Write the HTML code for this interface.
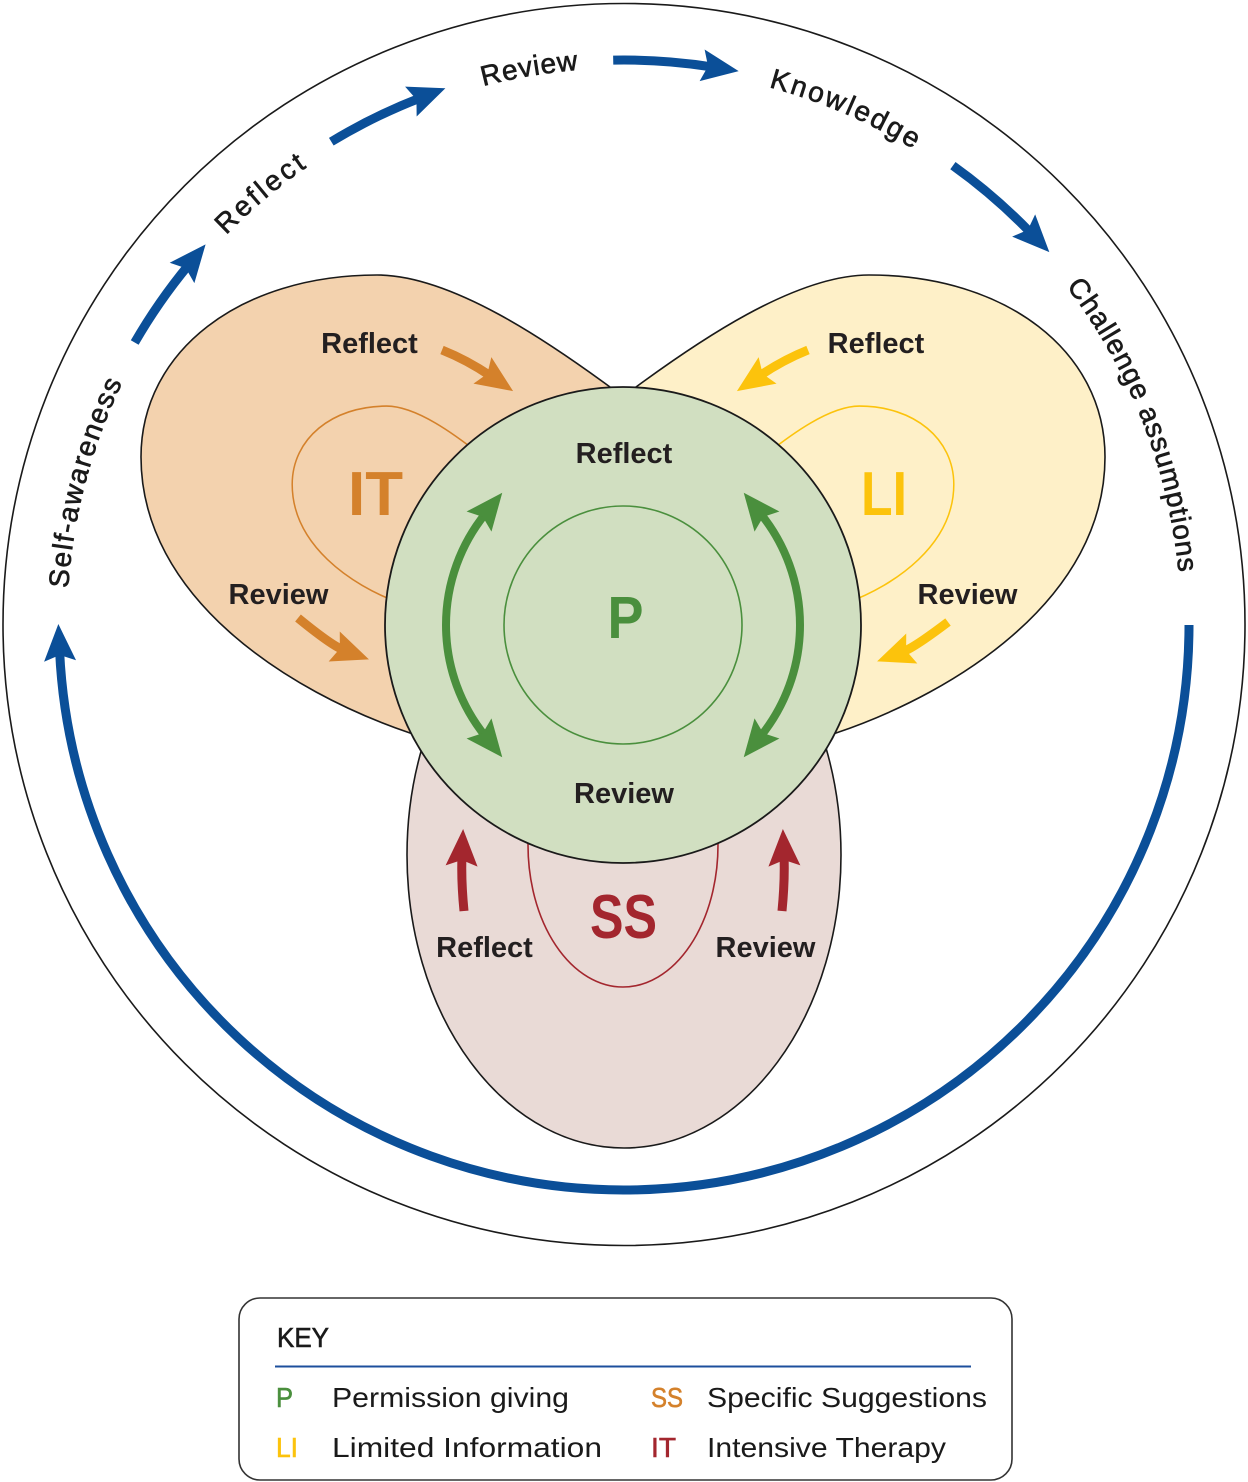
<!DOCTYPE html>
<html>
<head>
<meta charset="utf-8">
<style>
  html,body{margin:0;padding:0;background:#fff;}
  svg{display:block;}
  .lbl{font-family:"Liberation Sans",Arial,sans-serif;font-weight:bold;font-size:29px;fill:#231f20;text-anchor:middle;}
  .outer{font-family:"Liberation Sans",Arial,sans-serif;font-size:28px;fill:#1a1a1a;stroke:#1a1a1a;stroke-width:0.65;}
  .big{font-family:"Liberation Sans",Arial,sans-serif;font-weight:bold;font-size:62px;text-anchor:middle;}
  .key{font-family:"Liberation Sans",Arial,sans-serif;font-size:28px;fill:#1a1a1a;}
  .keyc{font-family:"Liberation Sans",Arial,sans-serif;font-size:28px;stroke-width:0.6;}
</style>
</head>
<body>
<svg width="1248" height="1482" viewBox="0 0 1248 1482" xmlns="http://www.w3.org/2000/svg">
  <defs>
    <path id="ring" d="M67,625 A557,557 0 1 1 1181,625 A557,557 0 1 1 67,625"/>
    <path id="lobe" d="M610,387 C550,343 452,275 377,275 C240,275 141,351.4 141,457 C141,597 287,691.4 410,733 L470,752 L640,700 L690,460 Z"/>
    <marker id="mb" markerUnits="userSpaceOnUse" viewBox="-20 -40 80 80" markerWidth="80" markerHeight="80" refX="10" refY="0" orient="auto-start-reverse" overflow="visible">
      <path d="M0,-16 L37,0 L0,16 L6,0 Z" fill="#0b4f98"/>
    </marker>
    <marker id="mo" markerUnits="userSpaceOnUse" viewBox="-20 -40 80 80" markerWidth="80" markerHeight="80" refX="10" refY="0" orient="auto-start-reverse" overflow="visible">
      <path d="M0,-16 L37,0 L0,16 L6,0 Z" fill="#d4812b"/>
    </marker>
    <marker id="my" markerUnits="userSpaceOnUse" viewBox="-20 -40 80 80" markerWidth="80" markerHeight="80" refX="10" refY="0" orient="auto-start-reverse" overflow="visible">
      <path d="M0,-16 L37,0 L0,16 L6,0 Z" fill="#fcc30c"/>
    </marker>
    <marker id="mr" markerUnits="userSpaceOnUse" viewBox="-20 -40 80 80" markerWidth="80" markerHeight="80" refX="10" refY="0" orient="auto-start-reverse" overflow="visible">
      <path d="M0,-16 L37,0 L0,16 L6,0 Z" fill="#a3262e"/>
    </marker>
    <marker id="mg" markerUnits="userSpaceOnUse" viewBox="-20 -40 80 80" markerWidth="80" markerHeight="80" refX="10" refY="0" orient="auto-start-reverse" overflow="visible">
      <path d="M0,-16 L37,0 L0,16 L6,0 Z" fill="#4a8f3d"/>
    </marker>
  </defs>

  <!-- outer circle -->
  <circle cx="624" cy="624.5" r="621" fill="#fff" stroke="#1a1a1a" stroke-width="1.6"/>

  <!-- blue arrows on the outer ring -->
  <g fill="none" stroke="#0b4f98" stroke-width="9" marker-end="url(#mb)">
    <path d="M134.7,342.5 A565,565 0 0 1 188.4,265.2"/>
    <path d="M331.3,141.7 A565,565 0 0 1 420.2,98.0"/>
    <path d="M613.2,60.1 A565,565 0 0 1 712.0,66.9"/>
    <path d="M952.9,165.6 A565,565 0 0 1 1030.6,232.7"/>
    <path d="M1189,625 A565,565 0 0 1 59.6,651.0"/>
  </g>

  <!-- outer ring labels -->
  <text class="outer" text-anchor="middle" letter-spacing="1.6"><textPath href="#ring" startOffset="144.4">Self-awareness</textPath></text>
  <text class="outer" text-anchor="middle" letter-spacing="3.1"><textPath href="#ring" startOffset="486.1">Reflect</textPath></text>
  <text class="outer" text-anchor="middle" letter-spacing="0.9"><textPath href="#ring" startOffset="781.1">Review</textPath></text>
  <text class="outer" text-anchor="middle" letter-spacing="2.4"><textPath href="#ring" startOffset="1101.4">Knowledge</textPath></text>
  <text class="outer" text-anchor="middle" letter-spacing="1.0"><textPath href="#ring" startOffset="1541.8">Challenge assumptions</textPath></text>

  <!-- SS lobe (bottom) -->
  <ellipse cx="624" cy="855" rx="217" ry="293" fill="#e9dad6" stroke="#1a1a1a" stroke-width="1.6"/>
  <!-- IT lobe (left) -->
  <use href="#lobe" fill="#f3d2ae" stroke="#1a1a1a" stroke-width="1.6"/>
  <!-- LI lobe (right) -->
  <use href="#lobe" fill="#fef0c8" stroke="#1a1a1a" stroke-width="1.6" transform="translate(1246,0) scale(-1,1)"/>

  <!-- inner outlines -->
  <use href="#lobe" fill="none" stroke="#d4812b" stroke-width="3.8" transform="translate(393 505) scale(0.40 0.43) translate(-393 -505)"/>
  <use href="#lobe" fill="none" stroke="#fcc30c" stroke-width="3.8" transform="translate(1246,0) scale(-1,1) translate(393 505) scale(0.40 0.43) translate(-393 -505)"/>
  <ellipse cx="623" cy="845" rx="95" ry="142" fill="none" stroke="#a3262e" stroke-width="1.6"/>

  <!-- big lobe letters -->
  <text class="big" x="375.5" y="515" fill="#d4812b" textLength="55" lengthAdjust="spacingAndGlyphs">IT</text>
  <text class="big" x="884" y="515" fill="#fcc30c" textLength="46" lengthAdjust="spacingAndGlyphs">LI</text>
  <text class="big" x="623.5" y="938" fill="#a3262e" textLength="67" lengthAdjust="spacingAndGlyphs">SS</text>

  <!-- lobe labels -->
  <text class="lbl" x="369.5" y="353">Reflect</text>
  <text class="lbl" x="278.5" y="604">Review</text>
  <text class="lbl" x="876" y="353">Reflect</text>
  <text class="lbl" x="967.5" y="604">Review</text>
  <text class="lbl" x="484.5" y="957">Reflect</text>
  <text class="lbl" x="765.5" y="957">Review</text>

  <!-- lobe arrows -->
  <g fill="none" stroke="#d4812b" stroke-width="9" marker-end="url(#mo)">
    <path d="M442,350 Q467,360 490.7,376"/>
    <path d="M298,618 Q331.7,645.6 343.6,650"/>
  </g>
  <g fill="none" stroke="#fcc30c" stroke-width="9" marker-end="url(#my)" transform="translate(1246,0) scale(-1,1)">
    <path d="M438,350 Q463,360 486.7,376"/>
    <path d="M298,622 Q331.7,647.6 343.6,652"/>
  </g>
  <g fill="none" stroke="#a3262e" stroke-width="9" marker-end="url(#mr)">
    <path d="M464,911 Q461,880 462,856"/>
    <path d="M782,911 Q785,880 784,856"/>
  </g>

  <!-- P circle -->
  <circle cx="623" cy="625" r="238" fill="#d1dfc1" stroke="#1a1a1a" stroke-width="1.8"/>
  <circle cx="623" cy="625" r="119" fill="none" stroke="#4a8f3d" stroke-width="1.6"/>
  <g fill="none" stroke="#4a8f3d" stroke-width="8" marker-start="url(#mg)" marker-end="url(#mg)">
    <path d="M485.3,736.2 A177,177 0 0 1 485.3,513.8"/>
    <path d="M760.7,513.8 A177,177 0 0 1 760.7,736.2"/>
  </g>
  <text class="lbl" x="624" y="463">Reflect</text>
  <text class="lbl" x="624" y="803">Review</text>
  <text class="big" x="625.5" y="638" fill="#4a8f3d" style="font-size:59px" textLength="36" lengthAdjust="spacingAndGlyphs">P</text>

  <!-- KEY box -->
  <rect x="239" y="1298" width="773" height="182" rx="21" ry="21" fill="#fff" stroke="#333" stroke-width="1.6"/>
  <text class="key" x="277" y="1347" textLength="52" lengthAdjust="spacingAndGlyphs" style="stroke:#1a1a1a;stroke-width:0.6">KEY</text>
  <line x1="275" y1="1366.5" x2="971" y2="1366.5" stroke="#1d4f9c" stroke-width="2"/>

  <text class="keyc" x="276" y="1407" fill="#4a8f3d" stroke="#4a8f3d" textLength="17" lengthAdjust="spacingAndGlyphs">P</text>
  <text class="key" x="332" y="1407" textLength="237" lengthAdjust="spacingAndGlyphs">Permission giving</text>
  <text class="keyc" x="651" y="1407" fill="#d4812b" stroke="#d4812b" textLength="32" lengthAdjust="spacingAndGlyphs">SS</text>
  <text class="key" x="707" y="1407" textLength="280" lengthAdjust="spacingAndGlyphs">Specific Suggestions</text>

  <text class="keyc" x="276" y="1457" fill="#fcc30c" stroke="#fcc30c" textLength="22" lengthAdjust="spacingAndGlyphs">LI</text>
  <text class="key" x="332" y="1457" textLength="270" lengthAdjust="spacingAndGlyphs">Limited Information</text>
  <text class="keyc" x="651" y="1457" fill="#a3262e" stroke="#a3262e" textLength="25" lengthAdjust="spacingAndGlyphs">IT</text>
  <text class="key" x="707" y="1457" textLength="239" lengthAdjust="spacingAndGlyphs">Intensive Therapy</text>
</svg>
</body>
</html>
